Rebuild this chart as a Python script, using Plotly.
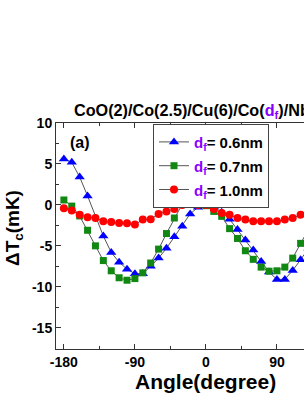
import plotly.graph_objects as go

angles = [-180, -170, -160, -150, -140, -130, -120, -110, -100, -90, -80, -70, -60, -50, -40, -30,
          -20, -10, 0, 10, 20, 30, 40, 50, 60, 70, 80, 90, 100, 110, 120, 130]

angles_06 = [-180, -170, -160, -150, -130, -120, -110, -100, -90, -80, -70, -60, -50, -40, -30,
             -20, -10, 0, 10, 20, 30, 40, 50, 60, 70, 80, 90, 100, 110, 120, 130]
dtc_06 = [5.6, 5.2, 3.4, 1.1, -3.8, -5.8, -7.0, -7.85, -8.4, -8.4, -7.5, -6.5, -5.3, -3.9, -2.6,
          -1.1, -0.3, 0.0, -0.2, -0.9, -1.75, -3.0, -4.3, -5.5, -6.9, -8.2, -9.1, -9.1, -8.0, -6.7, -5.3]
dtc_07 = [0.6, -0.15, -1.35, -3.1, -5.0, -6.8, -8.05, -8.9, -9.2, -9.0, -8.3, -7.1, -5.4, -3.5, -1.6, 0.1,
          0.6, 0.4, -0.1, -0.8, -1.4, -2.9, -4.1, -5.6, -6.65, -7.6, -8.1, -8.05, -7.6, -6.5, -4.7, -3.0]
dtc_10 = [-0.4, -0.7, -1.2, -1.5, -1.6, -2.0, -2.1, -2.2, -2.25, -2.4, -1.8, -1.75, -1.1, -0.8, -0.5, 0.0,
          0.3, 0.0, 0.0, -0.5, -1.0, -1.2, -1.6, -1.8, -2.0, -2.0, -2.0, -2.0, -1.8, -1.6, -1.2, -0.9]

x_ticks = [-180, -90, 0, 90]
y_ticks = [-15, -10, -5, 0, 5, 10]

PURPLE = "#8a00ff"
FONT = "Arial, 'Liberation Sans', sans-serif"
LINE = "#555555"

def lab(v):
    return (f"<span style='font-size:15px'><span style='color:{PURPLE}'>d<sub>f</sub></span>"
            f"= {v}</span>")

fig = go.Figure()
fig.add_trace(go.Scatter(x=angles_06, y=dtc_06, mode="lines+markers", name=lab("0.6nm"),
                         line=dict(color=LINE, width=1),
                         marker=dict(symbol="triangle-up", size=9, color="#0000ff")))
fig.add_trace(go.Scatter(x=angles, y=dtc_07, mode="lines+markers", name=lab("0.7nm"),
                         line=dict(color=LINE, width=1),
                         marker=dict(symbol="square", size=7, color="#118811")))
fig.add_trace(go.Scatter(x=angles, y=dtc_10, mode="lines+markers", name=lab("1.0nm"),
                         line=dict(color=LINE, width=1),
                         marker=dict(symbol="circle", size=8, color="#ff0000")))

fig.update_layout(
    width=304, height=394,
    margin=dict(l=56, r=0, t=123, b=45),
    paper_bgcolor="white", plot_bgcolor="white",
    font=dict(family=FONT, size=13, color="black", weight="bold"),
    showlegend=True,
    legend=dict(x=(153 - 56) / 248, y=1 - (124 - 123) / 226, xanchor="left", yanchor="top",
                bordercolor="#444444", borderwidth=1, bgcolor="white",
                font=dict(family=FONT, size=16, color="black", weight="bold"),
                tracegroupgap=0, itemwidth=30),
    xaxis=dict(range=[-190, 124.3], tickvals=x_ticks, ticktext=[str(v) for v in x_ticks],
               ticks="inside", ticklen=5, tickwidth=1, tickcolor="#333",
               showline=True, linecolor="#333", linewidth=1, mirror="allticks",
               showgrid=False, zeroline=False,
               tickfont=dict(family=FONT, size=14, weight="bold"),
               minor=dict(dtick=45, tick0=0, ticks="inside", ticklen=3, tickcolor="#333")),
    yaxis=dict(range=[-17.6, 10], tickvals=y_ticks, ticktext=[str(v) for v in y_ticks],
               ticks="inside", ticklen=5, tickwidth=1, tickcolor="#333",
               showline=True, linecolor="#333", linewidth=1, mirror=False,
               showgrid=False, zeroline=False,
               tickfont=dict(family=FONT, size=14, weight="bold"),
               minor=dict(dtick=2.5, tick0=0, ticks="inside", ticklen=3, tickcolor="#333")),
)

fig.add_annotation(text=f"CoO(2)/Co(2.5)/Cu(6)/Co(<span style='color:{PURPLE}'>d<sub>f</sub></span>)/Nb",
                   xref="paper", yref="paper", x=(72 - 56) / 248, y=1 + (123 - 111) / 226,
                   xanchor="left", yanchor="middle", showarrow=False,
                   font=dict(family=FONT, size=16.2, weight="bold"))
fig.add_annotation(text="(a)", xref="paper", yref="paper", x=(80 - 56) / 248, y=1 - (142 - 123) / 226,
                   xanchor="center", yanchor="middle", showarrow=False,
                   font=dict(family=FONT, size=16, weight="bold"))
fig.add_annotation(text="Angle(degree)", xref="x", yref="paper", x=0, y=-(381 - 349) / 226,
                   xanchor="center", yanchor="middle", showarrow=False,
                   font=dict(family=FONT, size=21, weight="bold"))
fig.add_annotation(text="ΔT<sub>c</sub>(mK)", xref="paper", yref="paper", x=-(56 - 14) / 248,
                   y=1 - (228 - 123) / 226, xanchor="center", yanchor="middle", textangle=-90,
                   showarrow=False, font=dict(family=FONT, size=19, weight="bold"))

fig.write_html("out.html", config={"displayModeBar": False},
               post_script="document.body.style.margin='0';document.body.style.overflow='hidden';")
